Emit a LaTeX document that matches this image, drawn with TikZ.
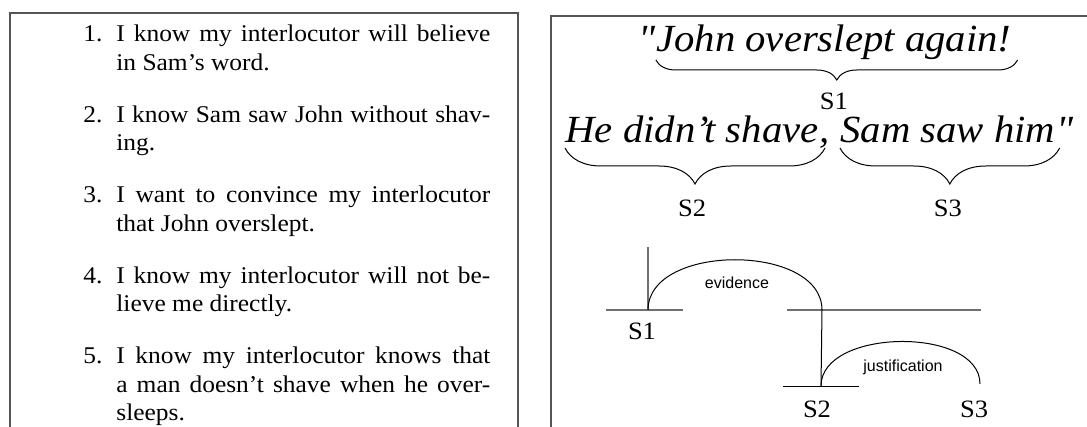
\documentclass[tikz,border=0pt]{standalone}
\usepackage{fontspec}
\setmainfont{Liberation Serif}[FakeStretch=1.06]
\setsansfont{Liberation Sans}
\usepackage{xcolor}
\definecolor{cFrame}{HTML}{555555}
\definecolor{cRule}{HTML}{707070}
\usetikzlibrary{positioning,decorations.pathreplacing}
\tikzset{
  frame/.style={draw=cFrame,line width=0.6pt},
  item-box/.style={inner sep=0pt,text width=187pt,align=justify,anchor=north west,
    font=\fontsize{12}{14.25}\selectfont},
  quote-text/.style={inner sep=0pt,font=\fontsize{19.2}{21}\selectfont\itshape},
  quote-mark/.style={inner sep=0pt,font=\fontsize{19.2}{21}\selectfont\itshape\addfontfeature{Ligatures=TeXOff}},
  brace-s/.style={decorate,decoration={brace,mirror,amplitude=10pt},line width=0.5pt},
  slabel/.style={inner sep=0pt,anchor=base,font=\fontsize{12.5}{15}\selectfont},
  rel-label/.style={inner sep=0pt,font=\sffamily\fontsize{8}{9}\selectfont},
  rule-line/.style={draw=cRule,line width=0.8pt},
  stem/.style={draw=cRule,line width=0.6pt},
  rel/.style={draw=black,line width=0.5pt},
}
\tolerance=9999

\begin{document}
\begin{tikzpicture}[x=0.5pt,y=-0.5pt]
  \useasboundingbox (0,0) rectangle (1087,427);
  % left frame: the speaker's reasons
  \draw[frame] (10,440) -- (10,13) -- (518,13) -- (518,440);
  \node[item-box] (it1) at (116,24.5) {\noindent\llap{1.\hspace{7pt}}I know my interlocutor will believe\linebreak in Sam's word.};
  \node[item-box] (it2) at (116,105) {\noindent\llap{2.\hspace{7pt}}I know Sam saw John without shav-\linebreak ing.};
  \node[item-box] (it3) at (116,185.5) {\noindent\llap{3.\hspace{7pt}}I want to convince my interlocutor\linebreak that John overslept.};
  \node[item-box] (it4) at (116,266) {\noindent\llap{4.\hspace{7pt}}I know my interlocutor will not be-\linebreak lieve me directly.};
  \node[item-box] (it5) at (116,346.5) {\noindent\llap{5.\hspace{7pt}}I know my interlocutor knows that\linebreak a man doesn't shave when he over-\linebreak sleeps.};

  % right frame: the utterance and its segments
  \draw[frame] (551,440) -- (551,16) -- (1100,16);
  \node[quote-mark,anchor=base west] (q1) at (638,52) {"};
  \node[quote-text,base right=0pt of q1] (seg1) {John overslept again!};
  \node[quote-text,anchor=base west] (seg2) at (565,143) {He didn’t shave};
  \node[quote-text,base right=0pt of seg2] (comma) {,};
  \node[quote-text,base right=5pt of comma] (seg3) {Sam saw him};
  \node[quote-mark,base right=0pt of seg3] (q2) {"};

  \draw[brace-s] ([yshift=-4pt]seg1.base west) -- ([xshift=3pt,yshift=-4pt]seg1.base east);
  \draw[brace-s,decoration={amplitude=18pt}] ([yshift=-2.5pt]seg2.base west) -- ([xshift=3pt,yshift=-2.5pt]seg2.base east);
  \draw[brace-s,decoration={amplitude=18pt}] ([yshift=-2.5pt]seg3.base west) -- ([xshift=2pt,yshift=-2.5pt]seg3.base east);
  \node[slabel] (lab1) at ([yshift=-29pt]seg1.base) {S1};
  \node[slabel] (lab2) at ([yshift=-37pt]seg2.base) {S2};
  \node[slabel] (lab3) at ([yshift=-37pt]seg3.base) {S3};

  % RST tree
  \node[slabel] (n1) at (642,340) {S1};
  \node[slabel] (n2) at (817,417) {S2};
  \node[slabel] (n3) at (974,417) {S3};
  \coordinate (top1) at (648,247);
  \coordinate (r1) at (648,310);
  \coordinate (k2) at (822,310);
  \coordinate (r2) at (821,386);
  \coordinate (r3) at (980,384);
  \draw[rule-line] (606,310) -- (683,310);
  \draw[rule-line] (787,310) -- (981,310);
  \draw[rel] (783,386) -- (859,386);
  \draw[stem] (top1) -- (r1);
  \draw[rel] (r1) .. controls +(0,-67) and +(0,-67) .. (k2) -- (r2);
  \draw[rel] (r2) .. controls +(0,-58) and +(0,-58) .. (r3);
  \node[rel-label] (ev) at (737,283) {evidence};
  \node[rel-label] (just) at (903,367) {justification};
\end{tikzpicture}
\end{document}
